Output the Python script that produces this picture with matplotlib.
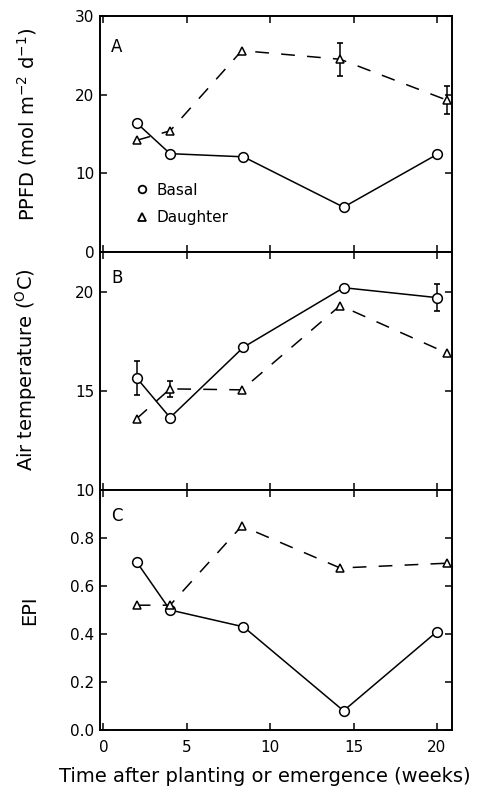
import matplotlib
matplotlib.use("Agg")
import matplotlib.pyplot as plt
from matplotlib.lines import Line2D

# ---- data ----
weeks_basal = [2.0, 4.0, 8.4, 14.4, 20.0]
weeks_daughter = [2.0, 4.0, 8.3, 14.2, 20.6]

ppfd_basal = [16.4, 12.5, 12.1, 5.7, 12.4]
ppfd_daughter = [14.2, 15.4, 25.6, 24.5, 19.3]
ppfd_daughter_err = [0, 0, 0, 2.1, 1.8]

temp_basal = [15.65, 13.65, 17.2, 20.2, 19.7]
temp_basal_err = [0.85, 0, 0, 0, 0.67]
temp_daughter = [13.6, 15.1, 15.05, 19.3, 16.9]
temp_daughter_err = [0, 0.4, 0, 0, 0]

epi_basal = [0.70, 0.50, 0.43, 0.08, 0.41]
epi_daughter = [0.52, 0.52, 0.85, 0.675, 0.695]

xticks = [0, 5, 10, 15, 20]
ppfd_ticks = [0, 10, 20, 30]
temp_ticks = [10, 15, 20]
epi_ticks = [0.0, 0.2, 0.4, 0.6, 0.8]

W, H = 504, 795
fig = plt.figure(figsize=(W / 100, H / 100), dpi=100)

left = 100 / W
width = (452 - 100) / W

def axes_px(top, bottom):
    return fig.add_axes([left, 1 - bottom / H, width, (bottom - top) / H])

axA = axes_px(16, 252)
axB = axes_px(252, 490)
axC = axes_px(490, 730)

ms_c = 7.0
ms_t = 6.0
dash = (0, (9, 8))

def draw(ax, yb, yd, eb=None, ed=None):
    ax.plot(weeks_basal, yb, '-', color='black', lw=1.1, marker='o', ms=ms_c,
            mfc='white', mec='black', mew=1.1, zorder=3)
    ax.plot(weeks_daughter, yd, linestyle=dash, color='black', lw=1.1, marker='^',
            ms=ms_t, mfc='white', mec='black', mew=1.1, zorder=3)
    if eb is not None:
        xs = [x for x, e in zip(weeks_basal, eb) if e > 0]
        ys = [y for y, e in zip(yb, eb) if e > 0]
        es = [e for e in eb if e > 0]
        ax.errorbar(xs, ys, yerr=es, fmt='none', ecolor='black', elinewidth=1.1,
                    capsize=2.5, capthick=1.2, zorder=2)
    if ed is not None:
        xs = [x for x, e in zip(weeks_daughter, ed) if e > 0]
        ys = [y for y, e in zip(yd, ed) if e > 0]
        es = [e for e in ed if e > 0]
        ax.errorbar(xs, ys, yerr=es, fmt='none', ecolor='black', elinewidth=1.1,
                    capsize=2.5, capthick=1.2, zorder=2)

draw(axA, ppfd_basal, ppfd_daughter, ed=ppfd_daughter_err)
draw(axB, temp_basal, temp_daughter, eb=temp_basal_err, ed=temp_daughter_err)
draw(axC, epi_basal, epi_daughter)

for ax in (axA, axB, axC):
    ax.set_xlim(-0.2, 20.9)
    ax.set_xticks(xticks)
    ax.tick_params(direction='in', top=True, right=True, length=5, width=1.1,
                   labelsize=11, pad=4)
    for s in ax.spines.values():
        s.set_linewidth(1.4)

axA.set_ylim(0, 30)
axA.set_yticks(ppfd_ticks)
axA.set_yticklabels([str(t) for t in ppfd_ticks])
axA.tick_params(labelbottom=False)

axB.set_ylim(10, 22)
axB.set_yticks(temp_ticks)
axB.set_yticklabels([str(t) for t in temp_ticks])
axB.tick_params(labelbottom=False)

axC.set_ylim(0, 1.0)
axC.set_yticks(epi_ticks)
axC.set_yticklabels(["%.1f" % t for t in epi_ticks])
axC.set_xticklabels([str(t) for t in xticks])
axC.tick_params(axis='x', pad=7)

for ax, lab, yf in ((axA, 'A', 0.87), (axB, 'B', 0.89), (axC, 'C', 0.89)):
    ax.text(0.048, yf, lab, transform=ax.transAxes, fontsize=12,
            ha='center', va='center')

handles = [
    Line2D([], [], ls='none', marker='o', ms=5.5, mfc='white', mec='black', mew=1.3),
    Line2D([], [], ls='none', marker='^', ms=5.5, mfc='white', mec='black', mew=1.3),
]
axA.legend(handles, ['Basal', 'Daughter'], loc='center left',
           bbox_to_anchor=(0.101, 0.2035), frameon=False, fontsize=11,
           handlelength=0.8, handletextpad=0.6, labelspacing=0.82, borderpad=0,
           borderaxespad=0)

fig.text(39 / W, 1 - 124 / H, r'PPFD (mol m$^{-2}$ d$^{-1}$)', rotation=90,
         ha='right', va='center', fontsize=14)
fig.text(39 / W, 1 - 370 / H, r'Air temperature ($^{\rm O}$C)', rotation=90,
         ha='right', va='center', fontsize=14)
fig.text(39 / W, 1 - 610 / H, 'EPI', rotation=90,
         ha='right', va='center', fontsize=14)
fig.text(265 / W, 1 - 776 / H, 'Time after planting or emergence (weeks)',
         ha='center', va='center', fontsize=14)

fig.savefig('out.png', dpi=100)
